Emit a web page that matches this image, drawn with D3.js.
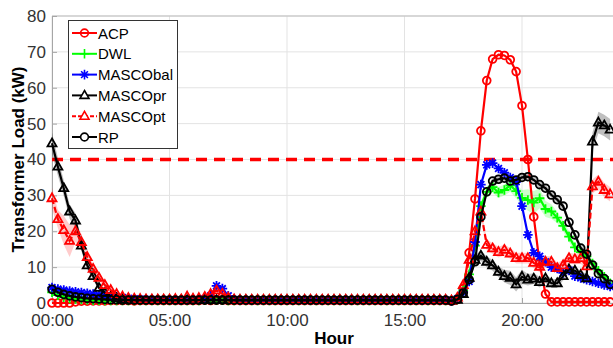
<!DOCTYPE html>
<html>
<head>
<meta charset="utf-8">
<script src="https://cdn.jsdelivr.net/npm/d3@7"></script>
<style>
  body { margin: 0; background: #fff; }
  svg { display: block; font-family: Arial, 'Liberation Sans', sans-serif; }
</style>
</head>
<body>
<div id="chart"></div>
<script>
// one value every 15 minutes, 00:00 .. 23:45
const stepHours = 0.25;

const acp = [
  0, 0, 0, 0,  0.3, 0.5, 0.5, 0.6,  0.6, 0.6, 0.7, 0.7,  0.7, 0.7, 0.6, 0.7,
  0.7, 0.7, 0.7, 0.7,  0.7, 0.7, 0.7, 0.7,  0.7, 0.7, 0.8, 0.7,  0.8, 0.8, 0.7, 0.7,
  0.7, 0.7, 0.7, 0.7,  0.7, 0.7, 0.7, 0.7,  0.7, 0.7, 0.7, 0.7,  0.7, 0.7, 0.7, 0.7,
  0.7, 0.7, 0.7, 0.7,  0.7, 0.7, 0.7, 0.7,  0.7, 0.7, 0.7, 0.7,  0.7, 0.7, 0.7, 0.7,
  0.7, 0.7, 0.7, 0.7,  0.5, 1.0, 4.0, 14,  29, 48, 62, 68,  69.2, 69, 67.8, 64.5,
  55, 40, 24, 11,  2.5, 0.3, 0.3, 0.3,  0.3, 0.3, 0.3, 0.3,  0.3, 0.3, 0.3, 0.3
];

const dwl = [
  3.0, 2.2, 1.6, 1.3,  1.1, 1.0, 0.9, 0.8,  0.8, 0.7, 0.7, 0.7,  0.7, 0.7, 0.7, 0.7,
  0.7, 0.7, 0.7, 0.7,  0.7, 0.7, 0.7, 0.7,  0.7, 0.7, 0.8, 0.9,  0.8, 0.8, 0.7, 0.7,
  0.7, 0.7, 0.7, 0.7,  0.7, 0.7, 0.7, 0.7,  0.7, 0.7, 0.7, 0.7,  0.7, 0.7, 0.7, 0.7,
  0.7, 0.7, 0.7, 0.7,  0.7, 0.7, 0.7, 0.7,  0.7, 0.7, 0.7, 0.7,  0.7, 0.7, 0.7, 0.7,
  0.7, 0.7, 0.7, 0.7,  0.6, 1.0, 3.5, 8,  16, 27, 31, 32.3,  30.8, 31.5, 32.8, 31.2,
  29.3, 28.7, 28, 29.2,  26.2, 25.5, 23.8, 21.5,  18.5, 15.5, 14.2, 13,  11, 9, 7.3, 5.5
];

const mascoBal = [
  4.3, 3.9, 3.6, 3.3,  3.1, 2.9, 2.7, 2.5,  2.3, 2.1, 1.9, 1.7,  1.5, 1.3, 1.2, 1.1,
  1.0, 1.0, 0.9, 0.9,  0.9, 0.8, 0.8, 0.8,  0.9, 1.0, 1.2, 2.0,  4.8, 4.0, 2.0, 1.0,
  0.8, 0.8, 0.8, 0.8,  0.8, 0.8, 0.8, 0.8,  0.8, 0.8, 0.8, 0.8,  0.8, 0.8, 0.8, 0.8,
  0.8, 0.8, 0.8, 0.8,  0.8, 0.8, 0.8, 0.8,  0.8, 0.8, 0.8, 0.8,  0.8, 0.8, 0.8, 0.8,
  0.8, 0.8, 0.8, 0.8,  0.6, 1.2, 3.0, 6.0,  17, 33, 38.5, 39,  37.5, 36.3, 35, 33.8,
  27, 19, 14, 13,  11.5, 10, 9.6, 8.4,  9.1, 7.5, 7, 6.5,  6, 5.5, 5, 4.6
];

const mascoPr = [
  44.5, 38, 32, 25.5,  23, 16, 10.5, 7.5,  4.2, 2.8, 1.8, 1.3,  1.0, 0.9, 0.8, 0.8,
  0.8, 0.8, 0.8, 0.8,  0.8, 0.8, 0.8, 0.8,  0.8, 0.8, 0.8, 0.8,  0.8, 0.8, 0.8, 0.8,
  0.8, 0.8, 0.8, 0.8,  0.8, 0.8, 0.8, 0.8,  0.8, 0.8, 0.8, 0.8,  0.8, 0.8, 0.8, 0.8,
  0.8, 0.8, 0.8, 0.8,  0.8, 0.8, 0.8, 0.8,  0.8, 0.8, 0.8, 0.8,  0.8, 0.8, 0.8, 0.8,
  0.8, 0.8, 0.8, 0.8,  0.6, 0.9, 2.5, 7,  12, 13.2, 11.5, 10.5,  8.7, 7.5, 7, 5.2,
  7.3, 6.5, 6.8, 5.8,  6.9, 5.5, 5.5, 7.5,  9.4, 9.0, 7.8, 6.9,  45, 50.3, 49.5, 48.3
];

const mascoPt = [
  29.2, 23.4, 20.3, 17.3,  20, 17, 12.8, 9.5,  7, 5, 3.6, 2.5,  1.8, 1.4, 1.2, 1.1,
  1.0, 1.0, 1.0, 1.0,  1.0, 1.1, 1.0, 1.8,  1.2, 1.4, 1.7, 2.5,  3.5, 2.6, 1.5, 1.0,
  0.9, 0.9, 0.9, 0.9,  0.9, 0.9, 0.9, 0.9,  0.9, 0.9, 0.9, 0.9,  0.9, 0.9, 0.9, 0.9,
  0.9, 0.9, 0.9, 0.9,  0.9, 0.9, 0.9, 0.9,  0.9, 0.9, 0.9, 0.9,  0.9, 0.9, 0.9, 0.9,
  0.9, 0.9, 0.9, 0.9,  0.7, 1.5, 5, 12,  20, 25.5, 16.2, 15.2,  14.2, 14.8, 13.8, 12.5,
  12.5, 12.5, 11.2, 10.1,  11.5, 11.5, 9.7, 10.5,  12.5, 12.2, 12.5, 10.2,  32.5, 33.8, 31.5, 30.3
];

const rp = [
  3.8, 3.0, 2.4, 2.0,  1.7, 1.5, 1.3, 1.2,  1.1, 1.0, 0.9, 0.9,  0.8, 0.8, 0.8, 0.8,
  0.8, 0.8, 0.8, 0.8,  0.8, 0.8, 0.8, 0.8,  0.8, 0.8, 0.8, 0.8,  0.8, 0.8, 0.8, 0.8,
  0.8, 0.8, 0.8, 0.8,  0.8, 0.8, 0.8, 0.8,  0.8, 0.8, 0.8, 0.8,  0.8, 0.8, 0.8, 0.8,
  0.8, 0.8, 0.8, 0.8,  0.8, 0.8, 0.8, 0.8,  0.8, 0.8, 0.8, 0.8,  0.8, 0.8, 0.8, 0.8,
  0.8, 0.8, 0.8, 0.8,  0.6, 1.0, 2.8, 6.5,  11.5, 24, 31, 34,  34.5, 34.8, 34, 34.3,
  35, 35.2, 34.3, 33,  32, 30.1, 28.8, 27,  22.5, 19, 15.3, 13.6,  10.6, 8.2, 6.8, 5.2
];

// spread (shaded band half width)
const dwlBand = [
  0.3, 0.3, 0.3, 0.3,  0.2, 0.2, 0.2, 0.2,  0.2, 0.2, 0.2, 0.2,  0.2, 0.2, 0.2, 0.2,
  0.2, 0.2, 0.2, 0.2,  0.2, 0.2, 0.2, 0.2,  0.2, 0.2, 0.2, 0.2,  0.2, 0.2, 0.2, 0.2,
  0.2, 0.2, 0.2, 0.2,  0.2, 0.2, 0.2, 0.2,  0.2, 0.2, 0.2, 0.2,  0.2, 0.2, 0.2, 0.2,
  0.2, 0.2, 0.2, 0.2,  0.2, 0.2, 0.2, 0.2,  0.2, 0.2, 0.2, 0.2,  0.2, 0.2, 0.2, 0.2,
  0.2, 0.2, 0.2, 0.2,  0.2, 0.3, 0.5, 0.8,  1.0, 1.2, 1.5, 1.5,  1.5, 1.5, 1.8, 2.0,
  2.2, 3.0, 3.2, 2.8,  2.2, 2.0, 1.6, 1.5,  1.5, 1.2, 1.0, 1.0,  1.0, 1.0, 0.8, 0.8
];

const prBand = [
  3.0, 2.5, 2.2, 2.0,  2.0, 1.5, 1.2, 1.0,  0.8, 0.5, 0.4, 0.3,  0.3, 0.2, 0.2, 0.2,
  0.2, 0.2, 0.2, 0.2,  0.2, 0.2, 0.2, 0.2,  0.2, 0.2, 0.2, 0.2,  0.2, 0.2, 0.2, 0.2,
  0.2, 0.2, 0.2, 0.2,  0.2, 0.2, 0.2, 0.2,  0.2, 0.2, 0.2, 0.2,  0.2, 0.2, 0.2, 0.2,
  0.2, 0.2, 0.2, 0.2,  0.2, 0.2, 0.2, 0.2,  0.2, 0.2, 0.2, 0.2,  0.2, 0.2, 0.2, 0.2,
  0.2, 0.2, 0.2, 0.2,  0.2, 0.3, 0.6, 1.0,  1.3, 1.5, 1.5, 1.5,  1.5, 1.8, 2.0, 2.0,
  2.0, 1.6, 1.5, 1.5,  1.3, 1.2, 1.2, 1.2,  1.2, 1.2, 1.2, 1.2,  2.5, 3.0, 3.0, 3.0
];

const ptBand = [
  3.0, 2.5, 4.0, 4.5,  3.0, 2.2, 1.6, 1.2,  0.8, 0.6, 0.5, 0.4,  0.3, 0.3, 0.2, 0.2,
  0.2, 0.2, 0.2, 0.2,  0.2, 0.2, 0.2, 0.3,  0.3, 0.3, 0.3, 0.4,  0.5, 0.4, 0.3, 0.2,
  0.2, 0.2, 0.2, 0.2,  0.2, 0.2, 0.2, 0.2,  0.2, 0.2, 0.2, 0.2,  0.2, 0.2, 0.2, 0.2,
  0.2, 0.2, 0.2, 0.2,  0.2, 0.2, 0.2, 0.2,  0.2, 0.2, 0.2, 0.2,  0.2, 0.2, 0.2, 0.2,
  0.2, 0.2, 0.2, 0.2,  0.2, 0.3, 0.8, 1.2,  1.5, 1.5, 1.5, 1.5,  1.5, 1.5, 1.5, 1.5,
  1.5, 1.5, 1.5, 1.5,  1.5, 1.5, 1.5, 1.5,  1.5, 1.5, 1.5, 1.5,  2.0, 2.0, 2.0, 2.0
];

const rpBand = [
  0.4, 0.3, 0.3, 0.3,  0.2, 0.2, 0.2, 0.2,  0.2, 0.2, 0.2, 0.2,  0.2, 0.2, 0.2, 0.2,
  0.2, 0.2, 0.2, 0.2,  0.2, 0.2, 0.2, 0.2,  0.2, 0.2, 0.2, 0.2,  0.2, 0.2, 0.2, 0.2,
  0.2, 0.2, 0.2, 0.2,  0.2, 0.2, 0.2, 0.2,  0.2, 0.2, 0.2, 0.2,  0.2, 0.2, 0.2, 0.2,
  0.2, 0.2, 0.2, 0.2,  0.2, 0.2, 0.2, 0.2,  0.2, 0.2, 0.2, 0.2,  0.2, 0.2, 0.2, 0.2,
  0.2, 0.2, 0.2, 0.2,  0.2, 0.3, 0.5, 0.8,  1.0, 1.0, 1.0, 1.0,  1.0, 1.0, 1.0, 1.0,
  1.0, 1.0, 1.0, 1.0,  1.0, 1.0, 1.0, 1.0,  1.0, 1.0, 1.0, 1.0,  1.0, 1.0, 1.0, 1.0
];

const threshold = 40;
const xTicks = [0, 5, 10, 15, 20];
const xTickLabels = ['00:00', '05:00', '10:00', '15:00', '20:00'];
const yTicks = [0, 10, 20, 30, 40, 50, 60, 70, 80];

const series = [
  { name: 'ACP', values: acp, band: null, color: '#ff0000', marker: 'circle', dash: null },
  { name: 'DWL', values: dwl, band: dwlBand, color: '#00ff00', marker: 'plus', dash: null },
  { name: 'MASCObal', values: mascoBal, band: null, color: '#0000ff', marker: 'star', dash: null },
  { name: 'MASCOpr', values: mascoPr, band: prBand, color: '#000000', marker: 'triangle', dash: null },
  { name: 'MASCOpt', values: mascoPt, band: ptBand, color: '#ff0000', marker: 'triangle', dash: '6,3' },
  { name: 'RP', values: rp, band: rpBand, color: '#000000', marker: 'circle', dash: null },
];

const markerPaths = {
  circle: 'M3.9,0A3.9,3.9 0 1 1 -3.9,0A3.9,3.9 0 1 1 3.9,0Z',
  plus: 'M-4.8,0H4.8M0,-4.8V4.8',
  star: 'M-4.8,0H4.8M0,-4.8V4.8M-3.4,-3.4L3.4,3.4M-3.4,3.4L3.4,-3.4',
  triangle: 'M0,-4.9L4.5,3H-4.5Z',
};

const size = { width: 613, height: 348 };
const margin = { top: 16, right: -3, bottom: 45, left: 52 };

const svg = d3.select('#chart')
  .append('svg')
  .attr('width', size.width)
  .attr('height', size.height);

const x = d3.scaleLinear()
  .domain([0, 24])
  .range([margin.left, size.width - margin.right]);

const y = d3.scaleLinear()
  .domain([0, 80])
  .range([size.height - margin.bottom, margin.top]);

// grid
svg.append('g')
  .selectAll('line')
  .data(yTicks)
  .enter()
  .append('line')
  .attr('x1', x(0))
  .attr('x2', x(24))
  .attr('y1', (d) => y(d))
  .attr('y2', (d) => y(d))
  .attr('stroke', '#e3e3e3')
  .attr('stroke-width', 1);

svg.append('g')
  .selectAll('line')
  .data(xTicks)
  .enter()
  .append('line')
  .attr('x1', (d) => x(d))
  .attr('x2', (d) => x(d))
  .attr('y1', y(0))
  .attr('y2', y(80))
  .attr('stroke', '#e3e3e3')
  .attr('stroke-width', 1);

// box + axes
svg.append('line')
  .attr('x1', x(0)).attr('x2', x(24))
  .attr('y1', y(80)).attr('y2', y(80))
  .attr('stroke', '#bdbdbd');

const xAxis = svg.append('g')
  .attr('transform', `translate(0,${y(0)})`)
  .call(d3.axisBottom(x).tickValues(xTicks).tickSize(-5).tickPadding(11)
    .tickFormat((d, i) => xTickLabels[i]));

const yAxis = svg.append('g')
  .attr('transform', `translate(${x(0)},0)`)
  .call(d3.axisLeft(y).tickValues(yTicks).tickSize(-5).tickPadding(6));

[xAxis, yAxis].forEach((ax) => {
  ax.select('.domain').attr('stroke', '#a6a6a6');
  ax.selectAll('.tick line').attr('stroke', '#a6a6a6');
  ax.selectAll('.tick text')
    .attr('fill', '#333')
    .style('font-size', '17px')
    .style('font-family', 'Arial, "Liberation Sans", sans-serif');
});

// threshold
svg.append('line')
  .attr('x1', x(0))
  .attr('x2', x(24))
  .attr('y1', y(threshold))
  .attr('y2', y(threshold))
  .attr('stroke', '#ff0000')
  .attr('stroke-width', 3.5)
  .attr('stroke-dasharray', '11,7');

const hours = acp.map((_, i) => i * stepHours);

// shaded bands
series.forEach((s) => {
  if (!s.band) return;
  const area = d3.area()
    .x((d, i) => x(hours[i]))
    .y0((d, i) => y(Math.max(0, d - s.band[i])))
    .y1((d, i) => y(d + s.band[i]));
  svg.append('path')
    .datum(s.values)
    .attr('d', area)
    .attr('fill', s.color)
    .attr('fill-opacity', s.color === '#000000' ? 0.25 : 0.2)
    .attr('stroke', 'none');
});

// lines + markers
const line = d3.line().x((d, i) => x(hours[i])).y((d) => y(d));

series.forEach((s) => {
  const g = svg.append('g');
  g.append('path')
    .datum(s.values)
    .attr('d', line)
    .attr('fill', 'none')
    .attr('stroke', s.color)
    .attr('stroke-width', 2.2)
    .attr('stroke-dasharray', s.dash);
  g.selectAll('path.mk')
    .data(s.values)
    .enter()
    .append('path')
    .attr('class', 'mk')
    .attr('d', markerPaths[s.marker])
    .attr('transform', (d, i) => `translate(${x(hours[i])},${y(d)})`)
    .attr('fill', 'none')
    .attr('stroke', s.color)
    .attr('stroke-width', 1.8);
});

// axis titles
svg.append('text')
  .attr('x', (x(0) + x(24)) / 2)
  .attr('y', 344)
  .attr('text-anchor', 'middle')
  .style('font-size', '17px')
  .style('font-weight', 'bold')
  .attr('fill', '#000')
  .text('Hour');

svg.append('text')
  .attr('transform', `translate(24,${(y(0) + y(80)) / 2}) rotate(-90)`)
  .attr('text-anchor', 'middle')
  .style('font-size', '17px')
  .style('font-weight', 'bold')
  .attr('fill', '#000')
  .text('Transformer Load (kW)');

// legend
const legend = svg.append('g').attr('transform', 'translate(68,20)');
legend.append('rect')
  .attr('x', 0.5).attr('y', 0.5)
  .attr('width', 109).attr('height', 128)
  .attr('fill', '#fff')
  .attr('stroke', '#333')
  .attr('stroke-width', 1);

series.forEach((s, i) => {
  const row = legend.append('g').attr('transform', `translate(0,${13 + i * 20.8})`);
  row.append('line')
    .attr('x1', 4).attr('x2', 29)
    .attr('stroke', s.color)
    .attr('stroke-width', 2)
    .attr('stroke-dasharray', s.dash ? '4,2' : null);
  row.append('path')
    .attr('d', markerPaths[s.marker])
    .attr('transform', 'translate(16.5,0)')
    .attr('fill', s.color === '#000000' || s.marker === 'triangle' ? '#fff' : 'none')
    .attr('stroke', s.color)
    .attr('stroke-width', 1.6);
  row.append('text')
    .attr('x', 30)
    .attr('y', 5.5)
    .style('font-size', '15px')
    .attr('fill', '#000')
    .text(s.name);
});
</script>
</body>
</html>
